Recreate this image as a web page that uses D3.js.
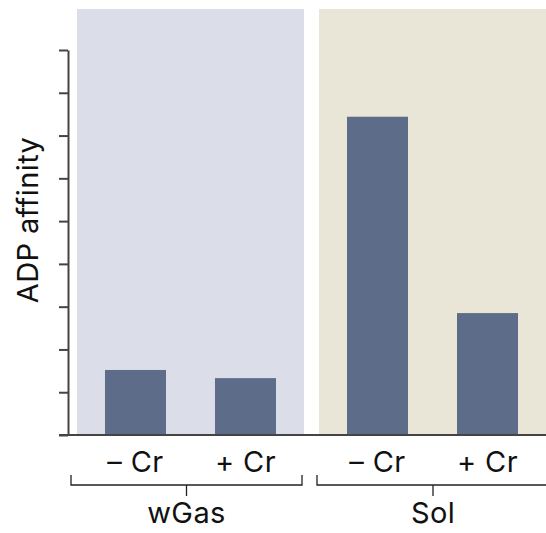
<!DOCTYPE html>
<html>
<head>
<meta charset="utf-8">
<script src="https://cdn.jsdelivr.net/npm/d3@7"></script>
<style>
  html, body { margin: 0; padding: 0; background: #fff; }
  svg { display: block; font-family: Inter, Roboto, "Noto Sans", sans-serif; }
</style>
</head>
<body>
<svg id="chart" width="546" height="533"></svg>
<script>
// Groups (tissue preparations) and the treatment within each group
const groups = ["wGas", "Sol"];
const treatments = ["– Cr", "+ Cr"];
// ADP affinity per group, in treatment order
const wGasValues = [1.52, 1.33];
const solValues = [7.44, 2.85];
const yTicks = [0, 1, 2, 3, 4, 5, 6, 7, 8, 9];
const panelColors = ["#dbdee8", "#e9e6d8"];

const values = { wGas: wGasValues, Sol: solValues };

const svg = d3.select("#chart");
const panelTop = 9, axisTop = 50, baseY = 435, axisX = 68;
const fontSize = 29;

const y = d3.scaleLinear().domain([0, 9]).range([baseY, axisTop]);

// outer scale: one panel per group
const x0 = d3.scaleBand().domain(groups).range([77, 546]).paddingInner(0.062);
// inner scale: bars inside a panel
const x1 = d3.scaleBand().domain(treatments).range([0, x0.bandwidth()])
  .paddingInner(0.4455).paddingOuter(0.2545);

// background panels
svg.append("g").selectAll("rect").data(groups).join("rect")
  .attr("x", d => x0(d))
  .attr("y", panelTop)
  .attr("width", x0.bandwidth())
  .attr("height", baseY - panelTop)
  .attr("fill", (d, i) => panelColors[i]);

// bars
const g = svg.append("g").selectAll("g").data(groups).join("g")
  .attr("transform", d => `translate(${x0(d)},0)`);
g.selectAll("rect").data(d => treatments.map((t, i) => ({ t, v: values[d][i] }))).join("rect")
  .attr("x", d => x1(d.t))
  .attr("y", d => y(d.v))
  .attr("width", x1.bandwidth())
  .attr("height", d => baseY - y(d.v))
  .attr("fill", "#5d6d89");

// treatment labels
g.selectAll("text").data(treatments).join("text")
  .attr("x", d => x1(d) + x1.bandwidth() / 2)
  .attr("y", 472)
  .attr("text-anchor", "middle")
  .attr("font-size", fontSize)
  .attr("letter-spacing", 0.4)
  .attr("fill", "#111")
  .text(d => d);

// y axis with unlabeled ticks
const yAxis = d3.axisLeft(y).tickValues(yTicks).tickSize(9).tickFormat("").tickSizeOuter(0);
const ya = svg.append("g").attr("transform", `translate(${axisX},0)`).call(yAxis);
ya.selectAll("path, line").attr("stroke", "#444").attr("stroke-width", 2);

// baseline
svg.append("line")
  .attr("x1", 59).attr("x2", 546)
  .attr("y1", baseY).attr("y2", baseY)
  .attr("stroke", "#444").attr("stroke-width", 2);

// y-axis title
svg.append("text")
  .attr("transform", "translate(38,220) rotate(-90)")
  .attr("text-anchor", "middle")
  .attr("font-size", fontSize)
  .attr("letter-spacing", 0.4)
  .attr("fill", "#111")
  .text("ADP affinity");

// group brackets
const brackets = [
  { name: "wGas", x1: 71, x2: 302 },
  { name: "Sol", x1: 317, x2: 549 }
];
const bg = svg.append("g").attr("stroke", "#222").attr("stroke-width", 1.3).attr("fill", "none");
brackets.forEach(b => {
  const cx = (b.x1 + b.x2) / 2;
  bg.append("path").attr("d", `M${b.x1},475V485H${b.x2}V475`);
  bg.append("path").attr("d", `M${cx},485V496`);
});
svg.append("g").selectAll("text").data(brackets).join("text")
  .attr("x", d => (d.x1 + d.x2) / 2)
  .attr("y", 523)
  .attr("text-anchor", "middle")
  .attr("font-size", fontSize)
  .attr("letter-spacing", 0.4)
  .attr("fill", "#111")
  .text(d => d.name);
</script>
</body>
</html>
